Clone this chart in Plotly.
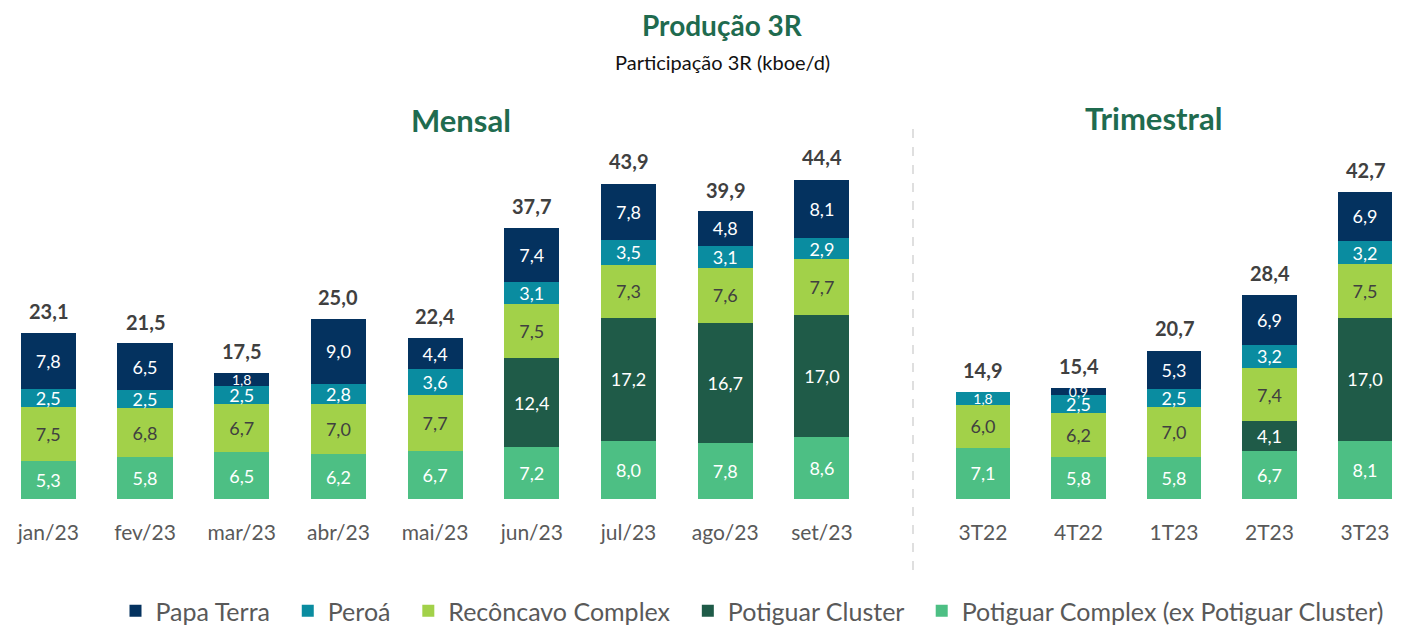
import plotly.graph_objects as go

# ---- data ----
months = ["jan/23", "fev/23", "mar/23", "abr/23", "mai/23", "jun/23", "jul/23", "ago/23", "set/23"]
m_potiguar_complex = [5.3, 5.8, 6.5, 6.2, 6.7, 7.2, 8.0, 7.8, 8.6]
m_potiguar_cluster = [0, 0, 0, 0, 0, 12.4, 17.2, 16.7, 17.0]
m_reconcavo = [7.5, 6.8, 6.7, 7.0, 7.7, 7.5, 7.3, 7.6, 7.7]
m_peroa = [2.5, 2.5, 2.5, 2.8, 3.6, 3.1, 3.5, 3.1, 2.9]
m_papa_terra = [7.8, 6.5, 1.8, 9.0, 4.4, 7.4, 7.8, 4.8, 8.1]
m_totals = [23.1, 21.5, 17.5, 25.0, 22.4, 37.7, 43.9, 39.9, 44.4]

quarters = ["3T22", "4T22", "1T23", "2T23", "3T23"]
q_potiguar_complex = [7.1, 5.8, 5.8, 6.7, 8.1]
q_potiguar_cluster = [0, 0, 0, 4.1, 17.0]
q_reconcavo = [6.0, 6.2, 7.0, 7.4, 7.5]
q_peroa = [1.8, 2.5, 2.5, 3.2, 3.2]
q_papa_terra = [0, 0.9, 5.3, 6.9, 6.9]
q_totals = [14.9, 15.4, 20.7, 28.4, 42.7]

series_names = ["Potiguar Complex (ex Potiguar Cluster)", "Potiguar Cluster",
                "Recôncavo Complex", "Peroá", "Papa Terra"]
legend_order = ["Papa Terra", "Peroá", "Recôncavo Complex", "Potiguar Cluster",
                "Potiguar Complex (ex Potiguar Cluster)"]
colors = ["#4DBF84", "#1F5B48", "#A2D149", "#0A8CA0", "#04325F"]
text_colors = ["white", "white", "#404040", "white", "white"]

FONT = "Lato"
GREEN_TITLE = "#1F6B4F"

# the page body has an 8px default margin: work in reference pixels, shifted
OFF = 8
W, H = 1405 - OFF, 625 - OFF

def fx(px):
    return (px - OFF) / W

def fy(py):
    return 1 - (py - OFF) / H

def fmt(v):
    return f"{v:.1f}".replace(".", ",")

fig = go.Figure()

m_series = [m_potiguar_complex, m_potiguar_cluster, m_reconcavo, m_peroa, m_papa_terra]
q_series = [q_potiguar_complex, q_potiguar_cluster, q_reconcavo, q_peroa, q_papa_terra]

for i, name in enumerate(series_names):
    for xs, ys, xa, ya in ((months, m_series[i], "x", "y"), (quarters, q_series[i], "x2", "y2")):
        fig.add_trace(go.Bar(
            x=xs, y=ys, name=name, marker_color=colors[i],
            marker_line_width=0, width=0.57,
            text=[fmt(v) if v > 0 else "" for v in ys],
            textposition="inside", insidetextanchor="middle",
            textfont=dict(color=text_colors[i], size=[14 if v < 2 else 18 for v in ys],
                          family=FONT),
            showlegend=False, xaxis=xa, yaxis=ya, hoverinfo="skip"))

# legend entries in reference order (trailing no-break spaces widen the gaps)
for k, name in enumerate(legend_order):
    c = colors[series_names.index(name)]
    label = name + ("\u00a0\u00a0" if k < len(legend_order) - 1 else "")
    fig.add_trace(go.Bar(x=[None], y=[None], name=label, marker_color=c,
                         xaxis="x", yaxis="y", showlegend=True))

annotations = []
for xv, t in zip(months, m_totals):
    annotations.append(dict(x=xv, y=t, xref="x", yref="y", text=f"<b>{fmt(t)}</b>",
                            showarrow=False, xanchor="center", yanchor="bottom", yshift=8,
                            font=dict(size=20, color="#404040", family=FONT)))
for xv, t in zip(quarters, q_totals):
    annotations.append(dict(x=xv, y=t, xref="x2", yref="y2", text=f"<b>{fmt(t)}</b>",
                            showarrow=False, xanchor="center", yanchor="bottom", yshift=8,
                            font=dict(size=20, color="#404040", family=FONT)))

def paper_text(px, py, text, size, color):
    return dict(x=fx(px), y=fy(py), xref="paper", yref="paper", text=text,
                showarrow=False, xanchor="center", yanchor="middle",
                font=dict(size=size, color=color, family=FONT))

annotations += [
    paper_text(722, 25, "<b>Produção 3R</b>", 28, GREEN_TITLE),
    paper_text(722, 62, "Participação 3R (kboe/d)", 20, "#111111"),
    paper_text(461, 120, "<b>Mensal</b>", 31, GREEN_TITLE),
    paper_text(1153, 118, "<b>Trimestral</b>", 31, GREEN_TITLE),
]

# plot area: baseline at ref y=499, 7.2 px per kboe/d
ybot, ytop = fy(499), fy(100)
yrange = [0, 399 / 7.2]

# monthly axis: first category centre at ref x=48.3, 96.7 px per category
m_left, m_right = OFF, 871
m_c0, m_step = 48.3, 96.7
m_range = [-(m_c0 - m_left) / m_step, (m_right - m_c0) / m_step]
# quarterly axis: first centre at ref x=983, 95.5 px per category
q_left, q_right = 930, 1405
q_c0, q_step = 983, 95.5
q_range = [-(q_c0 - q_left) / q_step, (q_right - q_c0) / q_step]

axis_common = dict(showgrid=False, zeroline=False, showline=False, ticks="",
                   tickfont=dict(size=21, color="#595959", family=FONT),
                   ticklabelstandoff=19, automargin=False, fixedrange=True)

fig.update_layout(
    template="none",
    width=W, height=H,
    margin=dict(l=0, r=0, t=0, b=0, pad=0, autoexpand=False),
    paper_bgcolor="white", plot_bgcolor="white",
    barmode="stack",
    font=dict(family=FONT, color="#595959"),
    xaxis=dict(domain=[fx(m_left), fx(m_right)], range=m_range, **axis_common),
    yaxis=dict(domain=[ybot, ytop], range=yrange, visible=False, automargin=False,
               fixedrange=True),
    xaxis2=dict(domain=[fx(q_left), fx(q_right)], range=q_range, anchor="y2", **axis_common),
    yaxis2=dict(domain=[ybot, ytop], range=yrange, visible=False, anchor="x2",
                automargin=False, fixedrange=True),
    legend=dict(orientation="h", x=fx(752), xanchor="center", y=fy(611), yanchor="middle",
                font=dict(size=25, color="#595959", family=FONT), traceorder="normal",
                itemclick=False, bgcolor="rgba(0,0,0,0)"),
    annotations=annotations,
    shapes=[dict(type="line", xref="paper", yref="paper", x0=fx(913), x1=fx(913),
                 y0=fy(570), y1=fy(125),
                 line=dict(color="#BFBFBF", width=1, dash="dash"))],
    uniformtext=dict(minsize=14, mode="show"),
    showlegend=True,
)

fig.write_html("out.html")
